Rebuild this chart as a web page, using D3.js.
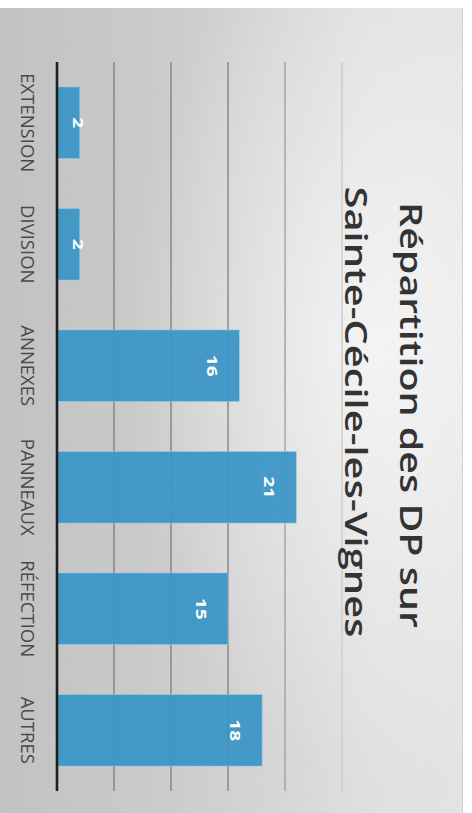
<!DOCTYPE html>
<html>
<head>
<meta charset="utf-8">
<script src="https://cdn.jsdelivr.net/npm/d3@7"></script>
<style>
  html, body { margin: 0; padding: 0; background: #ffffff; }
  svg { display: block; }
</style>
</head>
<body>
<script>
// Déclarations préalables (DP) par type de travaux
const categories = ["EXTENSION", "DIVISION", "ANNEXES", "PANNEAUX", "RÉFECTION", "AUTRES"];
const values = [2, 2, 16, 21, 15, 18];
const gridTicks = [5, 10, 15, 20, 25];
const titleLines = ["Répartition des DP sur", "Sainte-Cécile-les-Vignes"];

const W = 472, H = 813;
const svg = d3.select("body").append("svg").attr("width", W).attr("height", H);
const defs = svg.append("defs");

// Paper background: grey on the left, lighter towards the title side
const bg = defs.append("linearGradient").attr("id", "paper").attr("x1", 0).attr("x2", 1).attr("y1", 0).attr("y2", 0);
[[0, "#c3c3c3"], [0.35, "#cdcdcd"], [0.6, "#d9d9d9"], [0.8, "#e4e4e4"], [1, "#e8e8e8"]]
  .forEach(([o, c]) => bg.append("stop").attr("offset", o).attr("stop-color", c));

const glow = defs.append("radialGradient").attr("id", "glow")
  .attr("cx", 0.82).attr("cy", 0.42).attr("r", 0.55);
glow.append("stop").attr("offset", 0).attr("stop-color", "#ffffff").attr("stop-opacity", 0.85);
glow.append("stop").attr("offset", 0.55).attr("stop-color", "#ffffff").attr("stop-opacity", 0.35);
glow.append("stop").attr("offset", 1).attr("stop-color", "#ffffff").attr("stop-opacity", 0);

const grain = defs.append("filter").attr("id", "grain").attr("x", 0).attr("y", 0).attr("width", 1).attr("height", 1);
grain.append("feTurbulence").attr("type", "fractalNoise").attr("baseFrequency", 0.9).attr("numOctaves", 2).attr("seed", 4).attr("result", "n");
grain.append("feColorMatrix").attr("in", "n").attr("type", "matrix")
  .attr("values", "0 0 0 0 0.5  0 0 0 0 0.5  0 0 0 0 0.5  0 0 0 0.22 0");

const card = { x: 0, y: 8, w: 463, h: H - 8 };
svg.append("rect").attr("x", card.x).attr("y", card.y).attr("width", card.w).attr("height", card.h).attr("fill", "url(#paper)");
svg.append("rect").attr("x", card.x).attr("y", card.y).attr("width", card.w).attr("height", card.h).attr("fill", "url(#glow)");
svg.append("rect").attr("x", card.x).attr("y", card.y).attr("width", card.w).attr("height", card.h).attr("filter", "url(#grain)");
svg.append("line").attr("x1", card.w - 0.5).attr("x2", card.w - 0.5).attr("y1", card.y).attr("y2", H)
  .attr("stroke", "#d2d2d2").attr("stroke-width", 1);

// Scales: values run left→right, categories top→bottom
const x = d3.scaleLinear().domain([0, 25]).range([57, 342]);
const y = d3.scaleBand().domain(categories).range([62, 791]).paddingInner(0.41).paddingOuter(0.205);

const gridColor = d3.scaleLinear().domain([5, 15, 20, 25]).range(["#7a7a7a", "#7e7e7e", "#9d9d9d", "#c9c9c9"]);

svg.append("g").selectAll("line").data(gridTicks).join("line")
  .attr("x1", d => x(d)).attr("x2", d => x(d))
  .attr("y1", y.range()[0]).attr("y2", y.range()[1])
  .attr("stroke", d => gridColor(d)).attr("stroke-width", 1.3);

// Bars
const data = categories.map((c, i) => ({ cat: c, v: values[i] }));
svg.append("g").selectAll("rect").data(data).join("rect")
  .attr("x", x(0)).attr("y", d => y(d.cat))
  .attr("width", d => x(d.v) - x(0)).attr("height", y.bandwidth())
  .attr("fill", "#3a95c6").attr("fill-opacity", 0.94)
  .attr("stroke", "#9fd3ee").attr("stroke-width", 0.8).attr("stroke-opacity", 0.7);

// Category axis (baseline), labels turned a quarter turn clockwise
const axis = svg.append("g").attr("transform", `translate(${x(0)},0)`)
  .call(d3.axisLeft(y).tickSize(0).tickPadding(0));
axis.select(".domain").remove();
axis.append("line").attr("x1", 0).attr("x2", 0)
  .attr("y1", y.range()[0]).attr("y2", y.range()[1])
  .attr("stroke", "#1f1f1f").attr("stroke-width", 2.6);
axis.selectAll(".tick text")
  .attr("x", 0).attr("dy", 0)
  .attr("transform", "translate(-36.5,0) rotate(90)")
  .attr("text-anchor", "middle")
  .attr("font-family", "'Open Sans', sans-serif")
  .attr("font-size", 18.5)
  .attr("fill", "#4a4a4a");

// Value labels near the end of each bar
svg.append("g").selectAll("text").data(data).join("text")
  .attr("transform", d => {
    const bx = Math.max(x(d.v) - 32, x(0) + 16);
    return `translate(${bx},${y(d.cat) + y.bandwidth() / 2}) rotate(90) scale(1.28,1)`;
  })
  .attr("text-anchor", "middle")
  .attr("font-family", "'Open Sans', sans-serif")
  .attr("font-weight", 700)
  .attr("font-size", 15)
  .attr("fill", "#ffffff")
  .text(d => d.v);

// Title, two lines, reading top to bottom
const titleSpec = [
  { baseX: 400, cy: 415, len: 426 },
  { baseX: 345, cy: 412, len: 451 }
];
svg.append("g").selectAll("text").data(titleLines).join("text")
  .attr("transform", (d, i) => `translate(${titleSpec[i].baseX},${titleSpec[i].cy}) rotate(90)`)
  .attr("x", (d, i) => -titleSpec[i].len / 2)
  .attr("textLength", (d, i) => titleSpec[i].len)
  .attr("lengthAdjust", "spacingAndGlyphs")
  .attr("font-family", "'Open Sans', sans-serif")
  .attr("font-weight", 600)
  .attr("font-size", 30)
  .attr("fill", "#333333")
  .text(d => d);
</script>
</body>
</html>
